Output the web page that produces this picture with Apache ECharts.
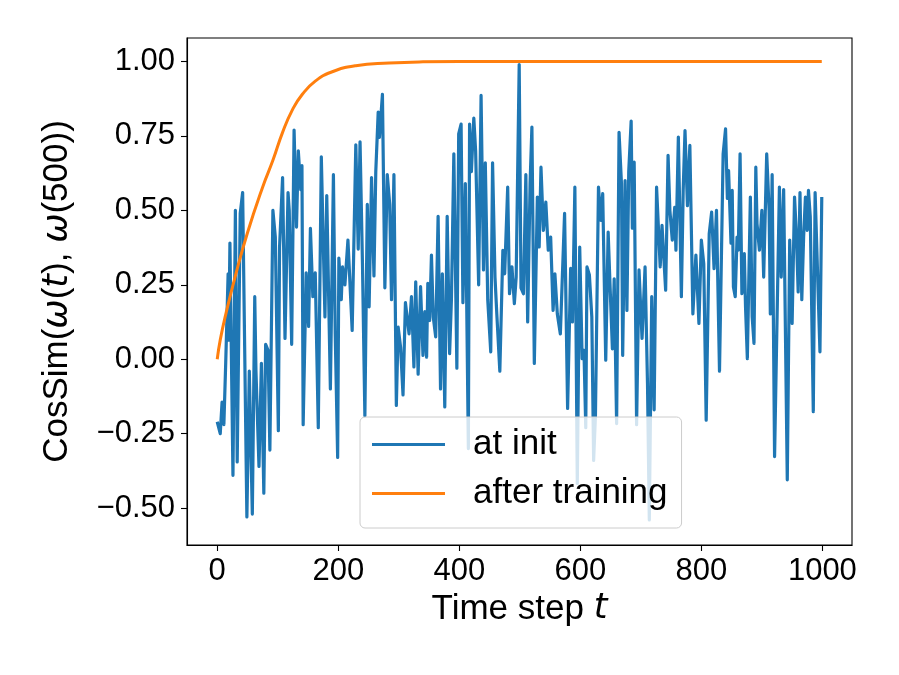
<!DOCTYPE html>
<html>
<head>
<meta charset="utf-8">
<script src="https://cdn.jsdelivr.net/npm/echarts@6/dist/echarts.min.js"></script>
<style>
  html, body { margin: 0; padding: 0; background: #fff; }
  #chart { width: 899px; height: 675px; }
</style>
</head>
<body>
<div id="chart"></div>
<script>
// cosine similarity at init (time step, value)
var initSteps = [0,1,5,8,11,14,18,19,21,26,30,33,38,42,49,53,58,62,64,69,73,77,80,84,87,92,96,101,103,108,112,117,119,123,127,131,134,138,140,142,147,151,154,158,162,
  167,172,178,181,187,192,195,199,201,205,207,211,216,223,229,233,236,240,244,248,251,255,259,262,266,268,273,277,281,285,288,292,296,299,303,307,311,317,321,325,
  328,332,336,340,343,346,348,351,354,357,361,365,369,372,376,380,384,387,391,396,399,403,406,410,415,417,420,424,427,432,436,440,443,447,452,455,459,462,467,472,475,480,483,487,491,494,499,
  502,506,510,513,517,520,524,529,532,535,539,543,547,551,555,558,562,567,574,579,584,587,591,595,599,603,606,609,611,615,619,622,625,630,634,637,642,646,649,653,656,660,664,668,670,674,
  677,680,684,686,689,693,697,702,707,711,714,718,722,726,732,735,741,745,748,752,756,758,762,767,770,773,777,781,786,791,796,800,804,808,813,817,821,825,830,836,840,
  843,845,849,851,853,856,859,861,864,867,871,873,876,881,884,887,890,892,896,900,903,908,912,914,917,921,929,932,936,942,946,950,954,957,960,963,966,969,972,975,977,980,985,988,991,996,999];
var initSim = [-0.21,-0.205,-0.25,-0.144,-0.22,-0.014,0.287,0.064,0.39,-0.39,0.50,-0.345,0.49,0.56,-0.53,-0.04,-0.52,0.21,-0.04,-0.36,-0.014,-0.45,0.05,0.03,-0.305,0.50,0.41,-0.24,0.377,0.61,0.07,0.56,0.50,0.05,0.77,0.444,0.70,0.57,0.65,-0.22,0.29,0.11,0.44,0.21,0.29,
  -0.23,0.68,0.142,0.55,-0.10,0.62,0.085,-0.33,0.34,0.20,0.31,0.25,0.40,0.097,0.72,0.37,0.73,0.32,-0.19,0.52,0.176,0.61,0.28,0.63,0.83,0.745,0.89,0.24,0.62,0.52,0.20,0.62,-0.155,0.108,0.04,-0.12,0.19,0.085,0.21,-0.026,
  0.26,-0.05,0.244,0.013,0.16,0.007,0.255,0.13,0.35,0.142,0.075,0.48,-0.10,0.287,-0.16,0.48,0.019,0.20,0.69,-0.03,0.757,0.79,0.19,0.59,-0.30,0.79,0.63,0.81,0.70,0.25,0.886,0.30,0.66,0.20,0.025,0.66,0.276,0.152,-0.04,0.366,0.287,0.578,0.22,0.31,0.187,0.276,0.99,
  0.24,0.22,0.62,0.125,0.59,0.78,-0.014,0.545,0.377,0.645,0.433,0.528,0.366,0.41,0.164,0.287,0.152,0.085,0.49,-0.165,0.305,0.125,0.578,-0.417,0.377,0.002,0.03,-0.23,0.31,0.283,0.142,-0.34,-0.19,0.578,0.466,0.556,-0.003,0.427,0.254,0.035,0.27,-0.216,0.762,0.59,0.013,0.60,
  0.164,0.63,0.80,0.44,0.662,-0.22,0.30,0.07,0.31,-0.08,-0.54,0.21,-0.17,0.578,0.31,0.45,0.232,0.685,0.50,0.40,0.51,0.366,0.746,0.21,0.567,0.768,0.516,0.718,0.152,0.35,0.12,0.40,0.32,-0.205,0.422,0.494,0.304,0.50,-0.04,0.69,0.774,
  0.54,0.634,0.39,0.567,0.243,0.21,0.41,0.366,0.69,0.22,0.355,0.176,0.002,0.545,0.142,0.053,0.645,0.455,0.366,0.50,0.276,0.69,0.50,0.152,0.62,-0.327,0.578,0.276,0.57,-0.405,0.40,0.12,0.545,0.42,0.226,0.56,0.20,0.41,0.545,0.433,0.567,0.478,-0.176,0.56,0.556,0.025,0.545];

// cosine similarity after training
var trainSteps = [0,5,14,30,50,75,92,108,125,141,162,188,229,284,340,400,500,600,700,800,900,999];
var trainSim = [0,0.065,0.15,0.28,0.425,0.578,0.668,0.762,0.841,0.891,0.934,0.964,0.986,0.995,0.999,1,1,1,1,1,1,1];

var xTicks = [0, 200, 400, 600, 800, 1000];
var yTicks = [-0.5, -0.25, 0, 0.25, 0.5, 0.75, 1.0];

function pairs(xs, ys) {
  var out = [];
  for (var i = 0; i < xs.length; i++) {
    out.push([xs[i], ys[i]]);
  }
  return out;
}

var chart = echarts.init(document.getElementById('chart'));

var font = 'Liberation Sans, Arial, sans-serif';
var math = { fontFamily: 'DejaVu Sans', fontStyle: 'italic', fontSize: 35, color: '#000' };
var plain = { fontFamily: font, fontSize: 35, color: '#000' };

chart.setOption({
  animation: false,
  backgroundColor: '#fff',
  grid: {
    left: 187, top: 38, width: 665, height: 507,
    show: true, borderColor: '#000', borderWidth: 1.1, backgroundColor: 'transparent'
  },
  legend: {
    orient: 'vertical',
    left: 360, top: 417,
    padding: [10, 14, 17, 12],
    itemGap: 14,
    itemWidth: 73,
    itemHeight: 3,
    icon: 'rect',
    backgroundColor: 'rgba(255,255,255,0.8)',
    borderColor: '#cccccc',
    borderWidth: 1,
    borderRadius: 5,
    textStyle: { fontFamily: font, fontSize: 35, color: '#000', padding: [0, 0, 0, 23] },
    data: ['at init', 'after training']
  },
  xAxis: {
    type: 'value',
    min: -49.95, max: 1048.95,
    name: '{n|Time step }{i|t}',
    nameLocation: 'middle',
    nameGap: 44,
    nameTextStyle: { rich: { n: plain, i: math } },
    axisLine: { show: true, onZero: false, lineStyle: { color: '#000', width: 1.1 } },
    axisTick: { show: true, length: 6, lineStyle: { color: '#000', width: 1.1 }, customValues: xTicks },
    axisLabel: {
      customValues: xTicks, margin: 11,
      fontFamily: font, fontSize: 31, color: '#000',
      formatter: function (v) { return String(v); }
    },
    splitLine: { show: false }
  },
  yAxis: {
    type: 'value',
    min: -0.624, max: 1.079,
    name: '{n|CosSim(}{i|ω}{n|(}{i|t}{n|), }{i|ω}{n|(500))}',
    nameLocation: 'middle',
    nameRotate: 90,
    nameGap: 112,
    nameTextStyle: { rich: { n: plain, i: math } },
    axisLine: { show: true, onZero: false, lineStyle: { color: '#000', width: 1.1 } },
    axisTick: { show: true, length: 6, lineStyle: { color: '#000', width: 1.1 }, customValues: yTicks },
    axisLabel: {
      customValues: yTicks, margin: 12,
      fontFamily: font, fontSize: 31, color: '#000',
      formatter: function (v) { return v.toFixed(2).replace('-', '\u2212'); }
    },
    splitLine: { show: false }
  },
  series: [
    {
      name: 'at init',
      type: 'line',
      data: pairs(initSteps, initSim),
      showSymbol: false,
      symbol: 'none',
      color: '#1f77b4',
      lineStyle: { color: '#1f77b4', width: 3.2, join: 'round' }
    },
    {
      name: 'after training',
      type: 'line',
      data: pairs(trainSteps, trainSim),
      showSymbol: false,
      symbol: 'none',
      smooth: 0.5,
      color: '#ff7f0e',
      lineStyle: { color: '#ff7f0e', width: 3 }
    }
  ]
});
</script>
</body>
</html>
